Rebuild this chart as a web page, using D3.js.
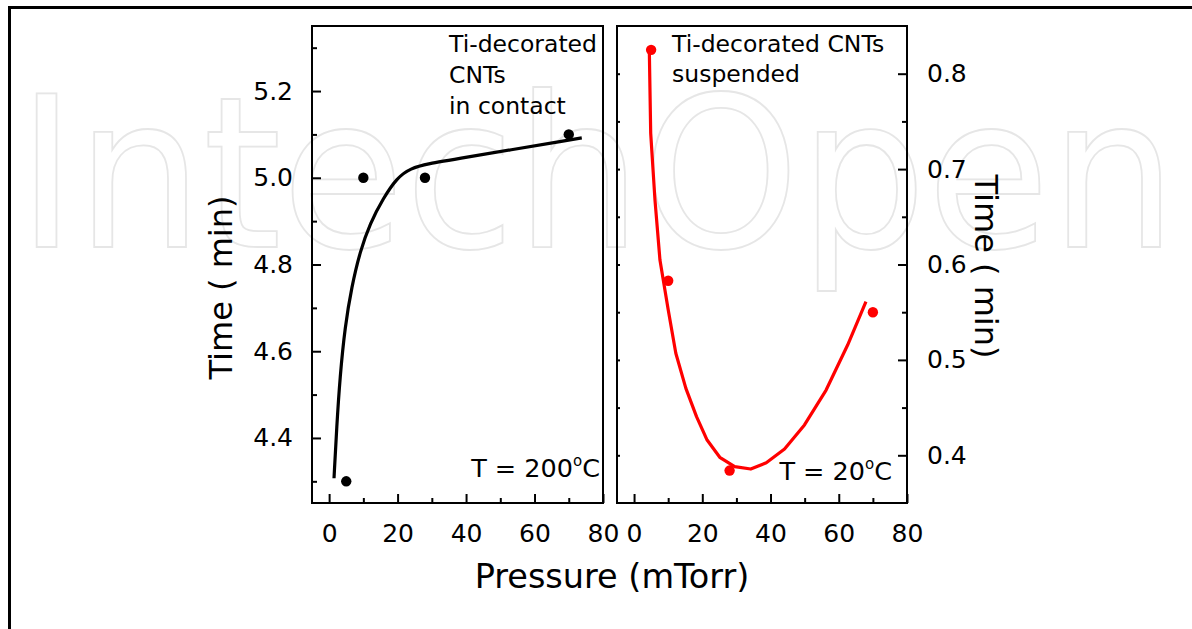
<!DOCTYPE html>
<html>
<head>
<meta charset="utf-8">
<script src="https://cdn.jsdelivr.net/npm/d3@7"></script>
<style>
  html, body { margin: 0; padding: 0; background: #fff; }
  svg { display: block; }
  text { font-family: "DejaVu Sans", Verdana, sans-serif; fill: #000; }
</style>
</head>
<body>
<svg id="chart" width="1192" height="629"></svg>
<script>
// ---- Data ----
const pressureLeft = [5, 10, 28, 70];
const timeLeft = [4.30, 5.00, 5.00, 5.10];
const fitLeftX = [1.43, 2.22, 3.18, 4.64, 6.60, 9.03, 11.95, 15.83, 19.75, 23.63, 29.47, 35.3, 73.8];
const fitLeftY = [4.307, 4.426, 4.541, 4.657, 4.749, 4.830, 4.895, 4.953, 4.999, 5.022, 5.033, 5.041, 5.092];

const pressureRight = [5, 10, 28, 70];
const timeRight = [0.825, 0.583, 0.384, 0.55];
const fitRightX = [4.47, 4.88, 6.13, 7.59, 10.02, 12.24, 15.19, 18.31, 21.41, 25.12, 29.5, 34.2, 38.76, 44.11, 49.95, 56.29, 62.6, 67.97];
const fitRightY = [0.825, 0.7375, 0.6676, 0.6047, 0.5523, 0.5069, 0.4702, 0.4405, 0.4160, 0.3979, 0.3881, 0.3856, 0.3922, 0.4066, 0.4318, 0.4684, 0.5156, 0.561];

const xTicks = [0, 20, 40, 60, 80];
const xMinorTicks = [10, 30, 50, 70];
const yLeftTicks = [4.4, 4.6, 4.8, 5.0, 5.2];
const yLeftMinor = [4.3, 4.5, 4.7, 4.9, 5.1, 5.3];
const yRightTicks = [0.4, 0.5, 0.6, 0.7, 0.8];
const yRightMinor = [0.45, 0.55, 0.65, 0.75];

const labelsLeft = ["Ti-decorated", "CNTs", "in contact"];
const labelsRight = ["Ti-decorated CNTs", "suspended"];
const tempLeft = "T = 200";
const tempRight = "T = 20";
const yTitle = "Time ( min)";
const xTitle = "Pressure (mTorr)";
const watermark = "IntechOpen";

// ---- Layout ----
const svg = d3.select("#chart");
svg.append("rect").attr("width", 1192).attr("height", 629).attr("fill", "#fff");

// watermark
svg.append("text")
  .attr("x", 17).attr("y", 247)
  .attr("textLength", 1160).attr("lengthAdjust", "spacingAndGlyphs")
  .style("font-family", "'DejaVu Sans', sans-serif")
  .style("font-size", "210px")
  .style("fill", "none")
  .style("stroke", "#e6e6e6")
  .style("stroke-width", 1.8)
  .text(watermark);

// outer frame
svg.append("rect").attr("x", 9.5).attr("y", 7.5).attr("width", 1300).attr("height", 800)
  .attr("fill", "none").attr("stroke", "#000").attr("stroke-width", 3);

const plotTop = 26, plotBottom = 503;
const L = { x0: 312, x1: 603 };
const R = { x0: 617, x1: 907 };

const xL = d3.scaleLinear().domain([-5, 80]).range([L.x0, L.x1]);
const xR = d3.scaleLinear().domain([-5, 80]).range([R.x0, R.x1]);
const yL = d3.scaleLinear().domain([4.25, 5.35]).range([plotBottom, plotTop]);
const yR = d3.scaleLinear().domain([0.35, 0.85]).range([plotBottom, plotTop]);

function styleAxis(g) {
  g.select(".domain").remove();
  g.selectAll("line").attr("stroke", "#000").attr("stroke-width", 2);
  g.selectAll("text").style("font-family", "'DejaVu Sans', Verdana, sans-serif").style("font-size", "25px").attr("fill", "#000");
}

function xAxes(xs) {
  const major = svg.append("g").attr("transform", `translate(0,${plotBottom})`)
    .call(d3.axisBottom(xs).tickValues(xTicks).tickSizeInner(-9).tickSizeOuter(0).tickPadding(21).tickFormat(d3.format("d")));
  styleAxis(major);
  const minor = svg.append("g").attr("transform", `translate(0,${plotBottom})`)
    .call(d3.axisBottom(xs).tickValues(xMinorTicks).tickSizeInner(-5).tickSizeOuter(0).tickFormat(""));
  styleAxis(minor);
}
xAxes(xL);
xAxes(xR);

// left panel y axis
{
  const major = svg.append("g").attr("transform", `translate(${L.x0},0)`)
    .call(d3.axisLeft(yL).tickValues(yLeftTicks).tickSizeInner(-9).tickSizeOuter(0).tickPadding(19).tickFormat(d3.format(".1f")));
  styleAxis(major);
  const minor = svg.append("g").attr("transform", `translate(${L.x0},0)`)
    .call(d3.axisLeft(yL).tickValues(yLeftMinor).tickSizeInner(-5).tickSizeOuter(0).tickFormat(""));
  styleAxis(minor);
}
// right panel y axis (right side)
{
  const major = svg.append("g").attr("transform", `translate(${R.x1},0)`)
    .call(d3.axisRight(yR).tickValues(yRightTicks).tickSizeInner(-9).tickSizeOuter(0).tickPadding(20).tickFormat(d3.format(".1f")));
  styleAxis(major);
  const minor = svg.append("g").attr("transform", `translate(${R.x1},0)`)
    .call(d3.axisRight(yR).tickValues(yRightMinor).tickSizeInner(-5).tickSizeOuter(0).tickFormat(""));
  styleAxis(minor);
  const mirror = svg.append("g").attr("transform", `translate(${R.x0},0)`)
    .call(d3.axisLeft(yR).tickValues(yRightTicks.concat(yRightMinor)).tickSizeInner(-3).tickSizeOuter(0).tickFormat(""));
  styleAxis(mirror);
}

// frames
[L, R].forEach(p => {
  svg.append("rect").attr("x", p.x0).attr("y", plotTop).attr("width", p.x1 - p.x0).attr("height", plotBottom - plotTop)
    .attr("fill", "none").attr("stroke", "#000").attr("stroke-width", 2);
});

// clip paths
const defs = svg.append("defs");
defs.append("clipPath").attr("id", "clipL").append("rect").attr("x", L.x0).attr("y", plotTop).attr("width", L.x1 - L.x0).attr("height", plotBottom - plotTop);
defs.append("clipPath").attr("id", "clipR").append("rect").attr("x", R.x0).attr("y", plotTop).attr("width", R.x1 - R.x0).attr("height", plotBottom - plotTop);

// left fit curve
const fitL = fitLeftX.map((x, i) => [x, fitLeftY[i]]);
svg.append("path").datum(fitL)
  .attr("d", d3.line().x(d => xL(d[0])).y(d => yL(d[1])).curve(d3.curveBasis))
  .attr("fill", "none").attr("stroke", "#000").attr("stroke-width", 3.2)
  .attr("clip-path", "url(#clipL)");

svg.append("g").selectAll("circle").data(pressureLeft.map((x, i) => [x, timeLeft[i]]))
  .join("circle").attr("cx", d => xL(d[0])).attr("cy", d => yL(d[1])).attr("r", 5.2).attr("fill", "#000");

// right fit curve
const fitR = fitRightX.map((x, i) => [x, fitRightY[i]]);
svg.append("path").datum(fitR)
  .attr("d", d3.line().x(d => xR(d[0])).y(d => yR(d[1])).curve(d3.curveLinear))
  .attr("fill", "none").attr("stroke", "#ff0000").attr("stroke-width", 3.2)
  .attr("stroke-linejoin", "round")
  .attr("clip-path", "url(#clipR)");

svg.append("g").selectAll("circle").data(pressureRight.map((x, i) => [x, timeRight[i]]))
  .join("circle").attr("cx", d => xR(d[0])).attr("cy", d => yR(d[1])).attr("r", 5.2).attr("fill", "#ff0000");

// annotations
const annL = svg.append("text").attr("x", 449).attr("y", 52).style("font-size", "23.5px");
labelsLeft.forEach((t, i) => {
  annL.append("tspan").attr("x", 449).attr("dy", i === 0 ? 0 : 31).text(t);
});
const annR = svg.append("text").attr("x", 672).attr("y", 52).style("font-size", "23.5px");
labelsRight.forEach((t, i) => {
  annR.append("tspan").attr("x", 672).attr("dy", i === 0 ? 0 : 30).text(t);
});

function tempLabel(x, y, txt) {
  const t = svg.append("text").attr("x", x).attr("y", y).attr("text-anchor", "end").style("font-size", "25.5px");
  t.append("tspan").text(txt);
  t.append("tspan").attr("dy", -11).style("font-size", "15px").text("o");
  t.append("tspan").attr("dy", 11).text("C");
}
tempLabel(600, 477, tempLeft);
tempLabel(892, 480, tempRight);

// axis titles
svg.append("text").attr("transform", "translate(232,287.5) rotate(-90)")
  .attr("text-anchor", "middle").style("font-size", "32px").text(yTitle);
svg.append("text").attr("transform", "translate(975,266.5) rotate(90)")
  .attr("text-anchor", "middle").style("font-size", "32px").text(yTitle);
svg.append("text").attr("x", 612).attr("y", 588)
  .attr("text-anchor", "middle").style("font-size", "33.5px").text(xTitle);
</script>
</body>
</html>
